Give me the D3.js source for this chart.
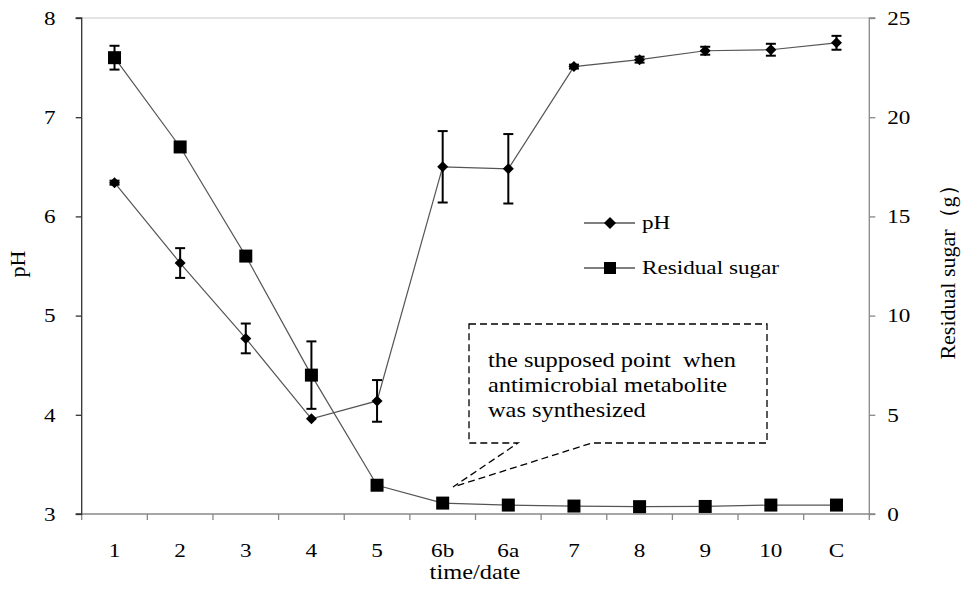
<!DOCTYPE html>
<html><head><meta charset="utf-8">
<script src="https://cdn.jsdelivr.net/npm/d3@7"></script>
<style>
body{margin:0;background:#fff;}
text{font-family:"Liberation Serif","Times New Roman",serif;fill:#000;}
</style></head>
<body><svg id="c" width="965" height="589"></svg>
<script>
const categories = ["1","2","3","4","5","6b","6a","7","8","9","10","C"];
const phValues = [6.34,5.53,4.77,3.96,4.14,6.50,6.48,7.51,7.58,7.67,7.68,7.75];
const phErrors = [0.02,0.15,0.15,0,0.21,0.36,0.35,0.02,0.03,0.04,0.06,0.07];
const sugarValues = [23.0,18.5,13.0,7.0,1.45,0.55,0.45,0.4,0.37,0.38,0.45,0.45];
const sugarErrors = [0.6,0,0,1.7,0,0,0,0,0,0,0,0];
const phTicks = [3,4,5,6,7,8];
const sugarTicks = [0,5,10,15,20,25];
const seriesNames = ["pH","Residual sugar"];
const calloutLines = ["the supposed point  when","antimicrobial metabolite","was synthesized"];

const svg = d3.select("#c");
const L = 81.7, R = 869.3, T = 18, B = 514;
const x = d3.scaleBand().domain(categories).range([L,R]);
const yL = d3.scaleLinear().domain([3,8]).range([B,T]);
const yR = d3.scaleLinear().domain([0,25]).range([B,T]);
const cx = c => x(c) + x.bandwidth()/2;
const SX = 1.22; // horizontal stretch of text like reference

function stretch(sel, ax){ sel.attr("transform", `translate(${ax},0) scale(${SX},1) translate(${-ax},0)`); }

// top border
svg.append("line").attr("x1",L).attr("x2",R).attr("y1",T).attr("y2",T).attr("stroke","#c8c8c8");

// bottom axis
const gx = svg.append("g").attr("transform",`translate(0,${B})`);
gx.append("line").attr("x1",L).attr("x2",R).attr("stroke","#888").attr("stroke-width",1.3);
gx.selectAll("line.tk").data(d3.range(categories.length+1)).join("line").attr("class","tk")
  .attr("x1",i=>L+i*x.step()).attr("x2",i=>L+i*x.step()).attr("y1",0).attr("y2",6).attr("stroke","#888").attr("stroke-width",1.3);
gx.selectAll("text").data(categories).join("text")
  .attr("x",d=>cx(d)).attr("y",43).attr("text-anchor","middle").attr("font-size",19).text(d=>d)
  .each(function(d){ stretch(d3.select(this), cx(d)); });

// left axis
const gl = svg.append("g").attr("transform",`translate(${L},0)`)
  .call(d3.axisLeft(yL).tickValues(phTicks).tickSize(6).tickPadding(20).tickFormat(d3.format("d")));
gl.select(".domain").attr("stroke","#333").attr("stroke-width",1.3).attr("d",`M-6,${B}H0V${T}H-6`);
gl.selectAll(".tick line").attr("stroke","#333").attr("stroke-width",1.3);
gl.selectAll(".tick text").attr("font-size",19).attr("dy","0.33em")
  .each(function(){ stretch(d3.select(this), -26); });

// right axis
const gr = svg.append("g").attr("transform",`translate(${R},0)`)
  .call(d3.axisRight(yR).tickValues(sugarTicks).tickSize(6).tickPadding(12));
gr.select(".domain").attr("stroke","#888").attr("stroke-width",1.3).attr("d",`M6,${B}H0V${T}H6`);
gr.selectAll(".tick line").attr("stroke","#888").attr("stroke-width",1.3);
gr.selectAll(".tick text").attr("font-size",19).attr("dy","0.33em")
  .each(function(){ stretch(d3.select(this), 18); });

// lines
const linePh = d3.line().x((d,i)=>cx(categories[i])).y(d=>yL(d));
const lineSu = d3.line().x((d,i)=>cx(categories[i])).y(d=>yR(d));
svg.append("path").attr("d",linePh(phValues)).attr("fill","none").attr("stroke","#555").attr("stroke-width",1.2);
svg.append("path").attr("d",lineSu(sugarValues)).attr("fill","none").attr("stroke","#555").attr("stroke-width",1.2);

// error bars
function errBars(vals, errs, y){
  const g = svg.append("g").attr("stroke","#000").attr("stroke-width",2);
  vals.forEach((v,i)=>{
    if(!errs[i]) return;
    const X = cx(categories[i]), y1 = y(v+errs[i]), y2 = y(v-errs[i]);
    g.append("line").attr("x1",X).attr("x2",X).attr("y1",y1).attr("y2",y2);
    g.append("line").attr("x1",X-5).attr("x2",X+5).attr("y1",y1).attr("y2",y1);
    g.append("line").attr("x1",X-5).attr("x2",X+5).attr("y1",y2).attr("y2",y2);
  });
}
errBars(phValues, phErrors, yL);
errBars(sugarValues, sugarErrors, yR);

// markers
const diamond = (X,Y,s)=>`M${X},${Y-s}L${X+s},${Y}L${X},${Y+s}L${X-s},${Y}Z`;
svg.append("g").selectAll("path").data(phValues).join("path")
  .attr("d",(d,i)=>diamond(cx(categories[i]),yL(d),5.5)).attr("fill","#000");
svg.append("g").selectAll("rect").data(sugarValues).join("rect")
  .attr("x",(d,i)=>cx(categories[i])-6.5).attr("y",d=>yR(d)-6.5).attr("width",13).attr("height",13).attr("fill","#000");

// legend
const lg = svg.append("g");
[223,268].forEach((ly,k)=>{
  lg.append("line").attr("x1",584).attr("x2",635).attr("y1",ly).attr("y2",ly).attr("stroke","#000").attr("stroke-width",1.2);
  if(k===0) lg.append("path").attr("d",diamond(610,ly,6)).attr("fill","#000");
  else lg.append("rect").attr("x",604).attr("y",ly-6).attr("width",12).attr("height",12).attr("fill","#000");
  const t = lg.append("text").attr("x",642).attr("y",ly+6).attr("font-size",19).text(seriesNames[k]);
  stretch(t,642);
});

// callout
svg.append("path").attr("d","M469,324H767V443H592L453,487L518,443H469Z")
  .attr("fill","none").attr("stroke","#000").attr("stroke-width",1.3).attr("stroke-dasharray","7,4");
calloutLines.forEach((s,i)=>{
  const t = svg.append("text").attr("x",488).attr("y",367+i*25).attr("font-size",20).style("white-space","pre").text(s);
  stretch(t,488);
});

// axis titles
const tx = svg.append("text").attr("x",475).attr("y",579).attr("text-anchor","middle").attr("font-size",20).text("time/date");
stretch(tx,475);
svg.append("text").attr("transform","translate(25,264) rotate(-90)").attr("text-anchor","middle").attr("font-size",22).text("pH");
svg.append("text").attr("transform","translate(955,267) rotate(-90)").attr("text-anchor","middle").attr("font-size",22).text("Residual sugar（g）");
</script></body></html>
